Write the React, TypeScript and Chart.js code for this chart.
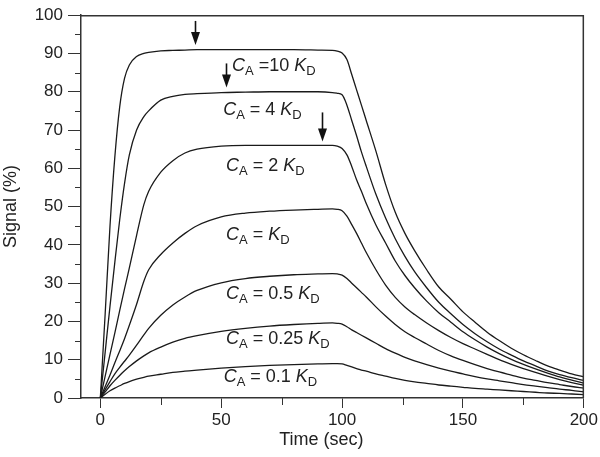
import React, { useEffect, useRef } from 'react';
import { Chart, registerables } from 'chart.js';

Chart.register(...registerables);

// ---- data ----
const times = [0, 2, 4, 6, 8, 10, 12, 15, 18, 20, 25, 30, 35, 40, 50, 60, 70, 80, 90, 96, 98, 100,
  102, 104, 106, 108, 110, 114, 118, 122, 126, 130, 135, 140, 145, 150, 155, 160, 165, 170, 175, 180, 185, 190, 195, 200];

const signal10KD = [0, 22, 45, 63, 76, 83.5, 87, 89.2, 90, 90.3, 90.7, 90.8, 90.9, 91, 91, 91, 91, 91, 90.9, 90.8, 90.6, 90.1,
  88.4, 84.5, 80.5, 76.5, 72.5, 64.5, 55.8, 48.5, 43, 38.5, 33.5, 29, 25.8, 22.5, 19.8, 17.2, 15, 13, 11.3, 9.8, 8.4, 7.3, 6.3, 5.5];
const signal4KD = [0, 12, 24, 35.5, 46.5, 56, 63.5, 70, 73.5, 75, 77.8, 78.8, 79.3, 79.5, 79.8, 79.9, 80, 80, 80, 79.8, 79.6, 79.2,
  76.5, 72.5, 68.5, 64.3, 60.5, 53.2, 47, 41.6, 37, 33, 28.8, 25, 22, 19.2, 16.8, 14.7, 12.8, 11.2, 9.7, 8.4, 7.1, 6.1, 5.3, 4.6];
const signal2KD = [0, 5.7, 11.4, 17, 22.8, 28.5, 34, 42.5, 50.5, 54, 59, 62, 64, 65, 65.8, 66, 66, 66, 66, 66, 65.8, 65.2,
  63.5, 60.5, 57, 54, 50.8, 45.2, 40.5, 35.8, 32, 28.8, 25.3, 22.3, 19.8, 17.3, 15.2, 13.3, 11.6, 10.1, 8.8, 7.6, 6.5, 5.5, 4.7, 3.9];
const signal1KD = [0, 3, 6, 9.2, 12.3, 15.5, 19, 24.5, 30.5, 33.5, 37.5, 40.5, 43, 45, 47.3, 48.3, 48.8, 49.1, 49.3, 49.4, 49.3, 48.9,
  47.5, 45.3, 43, 40.5, 38, 33.5, 29.5, 26.3, 23.8, 21.8, 19.6, 17.6, 15.8, 14.2, 12.8, 11.4, 10, 8.8, 7.7, 6.7, 5.7, 4.8, 4, 3.3];
const signal05KD = [0, 2.2, 4.3, 6.3, 8, 9.6, 11.2, 13.8, 16.5, 18.2, 21.6, 24.3, 26.4, 28.1, 30.1, 31.2, 31.8, 32.2, 32.4, 32.5, 32.4, 32.1,
  31.2, 30, 28.8, 27.6, 26.4, 23.8, 21.4, 19.2, 17.3, 15.8, 14.1, 12.4, 11, 9.8, 8.7, 7.7, 6.8, 6, 5.2, 4.6, 4, 3.5, 3, 2.6];
const signal025KD = [0, 1.6, 3.2, 4.6, 5.9, 7.1, 8.2, 9.7, 11, 11.8, 13.3, 14.6, 15.6, 16.3, 17.4, 18.2, 18.8, 19.2, 19.5, 19.6, 19.5, 19.3,
  18.6, 17.8, 17.1, 16.4, 15.7, 14.3, 12.9, 11.7, 10.6, 9.7, 8.7, 7.8, 7, 6.3, 5.6, 5, 4.5, 4, 3.5, 3.1, 2.7, 2.3, 2, 1.6];
const signal01KD = [0, 1, 1.9, 2.6, 3.2, 3.8, 4.3, 4.9, 5.4, 5.7, 6.2, 6.7, 7, 7.3, 7.8, 8.2, 8.5, 8.7, 8.9, 9, 9, 8.9,
  8.5, 8.1, 7.7, 7.3, 7, 6.3, 5.7, 5.1, 4.6, 4.2, 3.8, 3.4, 3.1, 2.8, 2.5, 2.3, 2.1, 1.9, 1.7, 1.5, 1.3, 1.2, 1.05, 0.9];

const seriesValues = [signal10KD, signal4KD, signal2KD, signal1KD, signal05KD, signal025KD, signal01KD];
const seriesNames = ['10 KD', '4 KD', '2 KD', 'KD', '0.5 KD', '0.25 KD', '0.1 KD'];

// label middle text (between "C_A" and "K_D")
const labelMiddles = [' =10 ', ' = 4 ', ' = 2 ', ' = ', ' = 0.5 ', ' = 0.25 ', ' = 0.1 '];

const xTickValues = [0, 50, 100, 150, 200];
const xMinorTickValues = [25, 75, 125, 175];
const yTickValues = [0, 10, 20, 30, 40, 50, 60, 70, 80, 90, 100];
const yMinorTickValues = [5, 15, 25, 35, 45, 55, 65, 75, 85, 95];

const xTitle = 'Time (sec)';
const yTitle = 'Signal (%)';

// ---- annotation placement (data coordinates) ----
const labelPositions = [
  { x: 54.5, y: 85.4 },
  { x: 50.8, y: 73.8 },
  { x: 52, y: 59.2 },
  { x: 52, y: 41.3 },
  { x: 52, y: 25.9 },
  { x: 52, y: 14.1 },
  { x: 51, y: 4.1 },
];
const arrowPositions = [
  { x: 39, from: 98.5, to: 92.2 },
  { x: 52, from: 87.4, to: 81.1 },
  { x: 91.7, from: 74.6, to: 67.0 },
];

const FONT = '"Liberation Sans", Arial, Helvetica, sans-serif';
const TEXT_COLOR = '#222';
const AXIS_COLOR = '#333';
const LINE_COLOR = '#1a1a1a';

const decorPlugin = {
  id: 'decor',
  afterDraw(chart: any) {
    const { ctx, chartArea, scales } = chart;
    const xs = scales.x;
    const ys = scales.y;
    ctx.save();

    // frame (top & right)
    ctx.strokeStyle = AXIS_COLOR;
    ctx.lineWidth = 1.5;
    ctx.beginPath();
    ctx.moveTo(chartArea.left, chartArea.top + 0.5);
    ctx.lineTo(chartArea.right - 0.5, chartArea.top + 0.5);
    ctx.lineTo(chartArea.right - 0.5, chartArea.bottom);
    ctx.stroke();

    // minor ticks
    ctx.lineWidth = 1;
    ctx.beginPath();
    for (const v of yMinorTickValues) {
      const y = Math.round(ys.getPixelForValue(v)) + 0.5;
      ctx.moveTo(chartArea.left - 6, y);
      ctx.lineTo(chartArea.left, y);
    }
    for (const v of xMinorTickValues) {
      const x = Math.round(xs.getPixelForValue(v)) + 0.5;
      ctx.moveTo(x, chartArea.bottom);
      ctx.lineTo(x, chartArea.bottom + 7);
    }
    ctx.stroke();

    // curve labels
    ctx.fillStyle = TEXT_COLOR;
    ctx.textAlign = 'left';
    ctx.textBaseline = 'alphabetic';
    const big = 18;
    const small = 13;
    labelMiddles.forEach((mid, i) => {
      const p = labelPositions[i];
      let cx = xs.getPixelForValue(p.x);
      const cy = ys.getPixelForValue(p.y);
      ctx.font = `italic ${big}px ${FONT}`;
      ctx.fillText('C', cx, cy);
      cx += ctx.measureText('C').width;
      ctx.font = `${small}px ${FONT}`;
      ctx.fillText('A', cx, cy + 4);
      cx += ctx.measureText('A').width;
      ctx.font = `${big}px ${FONT}`;
      ctx.fillText(mid, cx, cy);
      cx += ctx.measureText(mid).width;
      ctx.font = `italic ${big}px ${FONT}`;
      ctx.fillText('K', cx, cy);
      cx += ctx.measureText('K').width;
      ctx.font = `${small}px ${FONT}`;
      ctx.fillText('D', cx, cy + 4);
    });

    // arrows
    ctx.strokeStyle = '#111';
    ctx.fillStyle = '#111';
    for (const a of arrowPositions) {
      const x = Math.round(xs.getPixelForValue(a.x)) + 0.5;
      const y0 = ys.getPixelForValue(a.from);
      const y1 = ys.getPixelForValue(a.to);
      const head = 13;
      ctx.lineWidth = 1.6;
      ctx.beginPath();
      ctx.moveTo(x, y0);
      ctx.lineTo(x, y1 - head + 2);
      ctx.stroke();
      ctx.beginPath();
      ctx.moveTo(x - 4.5, y1 - head);
      ctx.lineTo(x + 4.5, y1 - head);
      ctx.lineTo(x, y1);
      ctx.closePath();
      ctx.fill();
    }

    // x axis title
    ctx.fillStyle = TEXT_COLOR;
    ctx.font = `18px ${FONT}`;
    ctx.textAlign = 'center';
    ctx.textBaseline = 'middle';
    ctx.fillText(xTitle, chartArea.left + (chartArea.right - chartArea.left) * 0.478, chartArea.bottom + 42);

    ctx.restore();
  },
};

export default function App() {
  const canvasRef = useRef<HTMLCanvasElement | null>(null);

  useEffect(() => {
    if (!canvasRef.current) return;
    const datasets = seriesValues.map((vals, i) => ({
      label: seriesNames[i],
      data: times.map((t, j) => ({ x: t, y: vals[j] })),
      borderColor: LINE_COLOR,
      backgroundColor: LINE_COLOR,
      borderWidth: 1.3,
      pointRadius: 0,
      fill: false,
      cubicInterpolationMode: 'monotone' as const,
    }));

    const chart = new Chart(canvasRef.current, {
      type: 'line',
      data: { datasets },
      options: {
        animation: false,
        responsive: false,
        maintainAspectRatio: false,
        layout: { padding: { top: 8, right: 16, left: 0, bottom: 0 } },
        plugins: {
          legend: { display: false },
          tooltip: { enabled: false },
        },
        scales: {
          x: {
            type: 'linear',
            min: -8,
            max: 200,
            afterBuildTicks: (scale: any) => {
              scale.ticks = xTickValues.map((v) => ({ value: v }));
            },
            afterFit: (scale: any) => {
              scale.height = 59;
            },
            grid: {
              display: true,
              drawOnChartArea: false,
              drawTicks: true,
              tickLength: 10,
              color: AXIS_COLOR,
              lineWidth: 1,
            },
            border: { display: true, color: AXIS_COLOR, width: 1.5 },
            ticks: {
              color: TEXT_COLOR,
              font: { family: FONT, size: 17 },
              padding: 2,
              maxRotation: 0,
              autoSkip: false,
            },
          },
          y: {
            type: 'linear',
            min: 0,
            max: 100,
            afterBuildTicks: (scale: any) => {
              scale.ticks = yTickValues.map((v) => ({ value: v }));
            },
            afterFit: (scale: any) => {
              scale.width = 81;
            },
            grid: {
              display: true,
              drawOnChartArea: false,
              drawTicks: true,
              tickLength: 13,
              color: AXIS_COLOR,
              lineWidth: 1,
            },
            border: { display: true, color: AXIS_COLOR, width: 1.5 },
            ticks: {
              color: TEXT_COLOR,
              font: { family: FONT, size: 17 },
              padding: 5,
              autoSkip: false,
            },
            title: {
              display: true,
              text: yTitle,
              color: TEXT_COLOR,
              font: { family: FONT, size: 18 },
              padding: { top: 0, bottom: 0 },
            },
          },
        },
      },
      plugins: [decorPlugin],
    });
    return () => chart.destroy();
  }, []);

  return (
    <div style={{ position: 'absolute', left: 0, top: 0, width: 600, height: 457, background: '#fff' }}>
      <canvas ref={canvasRef} width={600} height={457} style={{ display: 'block', width: 600, height: 457 }} />
    </div>
  );
}
